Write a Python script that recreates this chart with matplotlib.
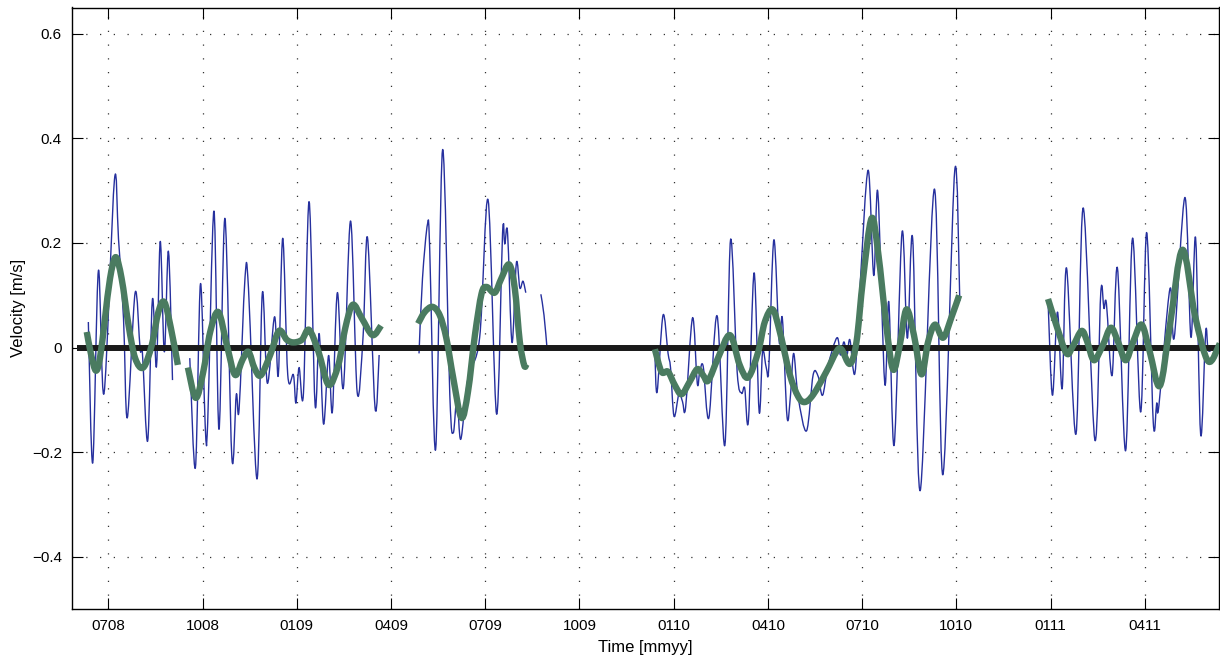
import matplotlib
matplotlib.use("Agg")
import matplotlib.pyplot as plt
from matplotlib.path import Path
from matplotlib.patches import PathPatch

plt.rcParams['font.family'] = ['Liberation Sans', 'DejaVu Sans']

# x axis: months since Jan 2008 (6 = July 2008)
x_tick_months = [6, 9, 12, 15, 18, 21, 24, 27, 30, 33, 36, 39]
x_tick_labels = ['0708', '1008', '0109', '0409', '0709', '1009',
                 '0110', '0410', '0710', '1010', '0111', '0411']
y_ticks = [-0.4, -0.2, 0, 0.2, 0.4, 0.6]
y_tick_labels = ['\u22120.4', '\u22120.2', '0', '0.2', '0.4', '0.6']

# ---- raw velocity (blue), in separate recorded segments ----
blue_t1 = [5.36, 5.50, 5.68, 5.86, 6.19, 6.32, 6.48, 6.60, 6.85, 7.01, 7.08, 7.25,
           7.40, 7.53, 7.65, 7.78, 7.91, 8.04]
blue_v1 = [0.049, -0.220, 0.147, -0.087, 0.320, 0.208, 0.056, -0.134, 0.105, -0.004,
           -0.008, -0.178, 0.092, -0.036, 0.203, -0.008, 0.184, -0.062]

blue_t2 = [8.59, 8.77, 8.93, 9.08, 9.16, 9.36, 9.52, 9.71, 9.93, 10.07, 10.16, 10.35,
           10.46, 10.73, 10.90, 11.06, 11.29, 11.41, 11.55, 11.71, 11.89, 11.97, 12.07,
           12.21, 12.39, 12.58, 12.71, 12.85, 13.01, 13.13, 13.29, 13.48, 13.71, 13.92,
           14.11, 14.25, 14.49, 14.62]
blue_v2 = [-0.020, -0.229, 0.122, -0.147, -0.144, 0.261, -0.156, 0.247, -0.210, -0.090,
           -0.118, 0.135, 0.113, -0.251, 0.104, -0.068, 0.059, -0.052, 0.209, -0.052,
           -0.052, -0.106, -0.038, -0.087, 0.279, -0.109, 0.027, -0.146, -0.015, -0.123,
           0.105, -0.077, 0.242, -0.085, 0.023, 0.210, -0.115, -0.014]

blue_t3 = [15.89, 16.00, 16.16, 16.23, 16.42, 16.64, 16.87, 16.98, 17.10, 17.22, 17.45,
           17.82, 18.09, 18.36, 18.55, 18.62, 18.71, 18.85, 18.99, 19.10, 19.20, 19.29]
blue_v3 = [-0.011, 0.132, 0.236, 0.189, -0.194, 0.378, -0.090, -0.163, -0.096, -0.175,
           -0.058, 0.019, 0.282, -0.127, 0.219, 0.198, 0.219, 0.010, 0.162, 0.114, 0.127,
           0.105]

blue_t4 = [19.77, 19.87, 19.97]
blue_v4 = [0.102, 0.062, -0.004]

blue_t5 = [23.40, 23.47, 23.66, 23.82, 23.90, 24.01, 24.17, 24.28, 24.38, 24.60, 24.75,
           24.83, 24.94, 25.12, 25.38, 25.63, 25.81, 26.02, 26.16, 26.26, 26.38, 26.56,
           26.72, 26.83, 26.95, 27.03, 27.19, 27.36, 27.46, 27.61, 27.72, 27.82, 27.96,
           28.23, 28.44, 28.60, 28.74, 28.92, 29.20, 29.31, 29.42, 29.52, 29.61, 29.77,
           29.93, 30.19, 30.37, 30.50, 30.72, 30.85, 31.02, 31.27, 31.44, 31.61, 31.85,
           32.30, 32.57, 32.95, 33.11]
blue_v5 = [-0.008, -0.085, 0.062, -0.011, -0.039, -0.131, -0.087, -0.103, -0.114, 0.057,
           -0.068, -0.046, -0.036, -0.134, 0.061, -0.186, 0.206, -0.046, -0.087, -0.077,
           -0.139, 0.143, -0.122, -0.008, -0.039, -0.036, 0.206, 0.011, 0.056, -0.133,
           -0.090, -0.011, -0.093, -0.159, -0.052, -0.055, -0.091, -0.033, 0.019, -0.014,
           0.011, -0.013, 0.015, -0.049, 0.113, 0.339, 0.138, 0.297, -0.068, 0.087,
           -0.186, 0.220, 0.018, 0.208, -0.273, 0.303, -0.243, 0.339, 0.089]

blue_t6 = [35.92, 36.06, 36.22, 36.37, 36.51, 36.81, 37.04, 37.41, 37.60, 37.70, 37.78,
           37.96, 38.13, 38.39, 38.61, 38.87, 39.06, 39.27, 39.38, 39.45, 39.80, 39.94,
           40.28, 40.47, 40.62, 40.78, 40.94, 41.02, 41.18, 41.37]
blue_v6 = [0.090, -0.091, 0.068, -0.078, 0.152, -0.165, 0.267, -0.176, 0.106, 0.075,
           0.084, -0.053, 0.152, -0.197, 0.209, -0.123, 0.220, -0.142, -0.106, -0.111,
           0.112, 0.020, 0.287, 0.020, 0.209, -0.166, 0.030, -0.005, -0.002, 0.003]

# ---- low-pass filtered velocity (green) ----
green_t1 = [5.31, 5.45, 5.60, 5.73, 5.89, 6.05, 6.23, 6.42, 6.64, 6.85, 7.11, 7.38, 7.59,
            7.78, 7.99, 8.21]
green_v1 = [0.030, -0.014, -0.044, -0.020, 0.056, 0.132, 0.173, 0.132, 0.043, -0.020,
            -0.038, 0.005, 0.068, 0.087, 0.037, -0.033]

green_t2 = [8.53, 8.78, 9.02, 9.24, 9.50, 9.77, 10.03, 10.27, 10.46, 10.65, 10.85, 11.15,
            11.43, 11.68, 11.89, 12.16, 12.39, 12.69, 13.01, 13.32, 13.54, 13.78, 14.07,
            14.41, 14.68]
green_v2 = [-0.038, -0.096, -0.046, 0.030, 0.068, 0.005, -0.052, -0.023, -0.008, -0.039,
            -0.053, -0.014, 0.032, 0.015, 0.010, 0.015, 0.034, -0.008, -0.071, -0.033,
            0.037, 0.082, 0.056, 0.024, 0.042]

green_t3 = [15.86, 16.07, 16.32, 16.55, 16.76, 16.98, 17.24, 17.45, 17.67, 17.88, 18.04,
            18.30, 18.51, 18.76, 18.94, 19.10, 19.24, 19.31]
green_v3 = [0.046, 0.068, 0.078, 0.062, 0.018, -0.058, -0.134, -0.084, 0.024, 0.103,
            0.116, 0.105, 0.132, 0.159, 0.113, 0.011, -0.034, -0.032]

green_t4 = [23.40, 23.61, 23.82, 24.03, 24.25, 24.51, 24.75, 24.94, 25.10, 25.41, 25.79,
            26.10, 26.37, 26.69, 26.90, 27.15, 27.38, 27.70, 27.96, 28.17, 28.44, 28.86,
            29.18, 29.34, 29.61, 29.82, 30.03, 30.30, 30.51, 30.78, 30.99, 31.20, 31.41,
            31.65, 31.89, 32.10, 32.32, 32.58, 32.85, 33.09]
green_v4 = [-0.003, -0.046, -0.046, -0.071, -0.089, -0.065, -0.041, -0.053, -0.063,
            -0.020, 0.024, -0.033, -0.057, -0.008, 0.049, 0.073, 0.030, -0.052, -0.093,
            -0.104, -0.090, -0.046, -0.008, -0.003, -0.031, 0.011, 0.132, 0.247, 0.182,
            0.037, -0.042, 0.005, 0.073, 0.024, -0.051, 0.011, 0.044, 0.019, 0.059, 0.100]

green_t5 = [35.92, 36.19, 36.51, 36.72, 36.99, 37.17, 37.38, 37.66, 37.92, 38.15, 38.39,
            38.63, 38.90, 39.16, 39.48, 39.80, 40.20, 40.60, 41.02, 41.39]
green_v5 = [0.093, 0.042, -0.011, 0.004, 0.032, 0.011, -0.024, 0.004, 0.038, 0.011,
            -0.024, 0.011, 0.044, -0.008, -0.073, 0.042, 0.187, 0.061, -0.026, 0.008]

zero_t = [4.99, 41.5]
zero_v = [0.0, 0.0]

blue_segments = [(blue_t1, blue_v1), (blue_t2, blue_v2), (blue_t3, blue_v3),
                 (blue_t4, blue_v4), (blue_t5, blue_v5), (blue_t6, blue_v6)]
green_segments = [(green_t1, green_v1), (green_t2, green_v2), (green_t3, green_v3),
                  (green_t4, green_v4), (green_t5, green_v5)]


def smooth_path(t, v):
    """Curve through the read points, drawn as cubic Bezier pieces (Catmull-Rom)."""
    pts = list(zip(t, v))
    n = len(pts)
    verts = [pts[0]]
    codes = [Path.MOVETO]
    for i in range(n - 1):
        p0 = pts[i - 1] if i > 0 else pts[i]
        p1 = pts[i]
        p2 = pts[i + 1]
        p3 = pts[i + 2] if i + 2 < n else pts[i + 1]
        c1 = (p1[0] + (p2[0] - p0[0]) / 6.0, p1[1] + (p2[1] - p0[1]) / 6.0)
        c2 = (p2[0] - (p3[0] - p1[0]) / 6.0, p2[1] - (p3[1] - p1[1]) / 6.0)
        verts += [c1, c2, p2]
        codes += [Path.CURVE4, Path.CURVE4, Path.CURVE4]
    return Path(verts, codes)


W, H = 1220, 662
fig = plt.figure(figsize=(W / 100, H / 100), dpi=100)
left, right, top, bottom = 71.7, 1219.5, 7.5, 609.3
ax = fig.add_axes([left / W, 1 - bottom / H, (right - left) / W, (bottom - top) / H])

blue_col = '#26309e'
green_col = '#4a7b60'

for t, v in blue_segments:
    ax.add_patch(PathPatch(smooth_path(t, v), fill=False, edgecolor=blue_col,
                           lw=1.0, zorder=3, joinstyle='round'))
ax.plot(zero_t, zero_v, color='#1a1a1a', lw=4.3, zorder=4, solid_capstyle='butt')
for t, v in green_segments:
    ax.add_patch(PathPatch(smooth_path(t, v), fill=False, edgecolor=green_col,
                           lw=4.6, zorder=5, capstyle='butt', joinstyle='round'))

ax.set_xlim(4.83, 41.38)
ax.set_ylim(-0.5, 0.65)
ax.set_xticks(x_tick_months)
ax.set_xticklabels(x_tick_labels)
ax.set_yticks(y_ticks)
ax.set_yticklabels(y_tick_labels)

ax.grid(True, color='#333333', linestyle=(0, (1, 10)), linewidth=0.9)
ax.set_axisbelow(True)
ax.tick_params(direction='in', top=True, right=True, length=8, width=0.8,
               labelsize=11, colors='black', pad=7)
for s in ax.spines.values():
    s.set_linewidth(1.0)
    s.set_color('black')

ax.set_xlabel('Time [mmyy]', fontsize=12, labelpad=5)
ax.set_ylabel('Velocity [m/s]', fontsize=12, labelpad=4)

fig.savefig('out.png', dpi=100)
